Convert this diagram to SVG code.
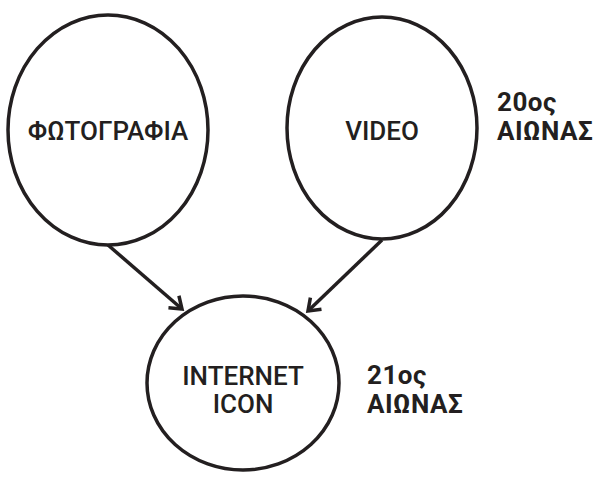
<svg xmlns="http://www.w3.org/2000/svg" width="604" height="477" viewBox="0 0 604 477">
<style>
.node ellipse{fill:#fff;stroke:#231f20;stroke-width:3.5}
.lbl{font-family:Roboto,"Liberation Sans",Arial,sans-serif;font-size:26px;font-weight:500;fill:#231f20;text-anchor:middle}
.era{font-family:Roboto,"Liberation Sans",Arial,sans-serif;font-size:26px;font-weight:bold;fill:#231f20;letter-spacing:0.5px}
.edge{stroke:#231f20;stroke-width:3.5;fill:none;marker-end:url(#arr)}
</style>
<defs>
<marker id="arr" markerWidth="8" markerHeight="8" refX="7" refY="4" orient="auto" markerUnits="userSpaceOnUse" viewBox="0 0 8 8" overflow="visible">
<path d="M-4,-4 L7,4 L-4,12" fill="none" stroke="#231f20" stroke-width="3.5"/>
</marker>
</defs>
<rect width="604" height="477" fill="#fff"/>
<g id="connectors">
<line class="edge" x1="108" y1="245" x2="182" y2="309"/>
<line class="edge" x1="382" y1="240" x2="308" y2="311"/>
</g>
<g id="photo" class="node">
<ellipse cx="108" cy="130" rx="100" ry="115"/>
<text class="lbl" x="108" y="140">ΦΩΤΟΓΡΑΦΙΑ</text>
</g>
<g id="video" class="node">
<ellipse cx="382" cy="128" rx="95" ry="111"/>
<text class="lbl" x="382" y="140">VIDEO</text>
</g>
<g id="internet" class="node">
<ellipse cx="243" cy="383" rx="96" ry="87"/>
<text class="lbl" x="243" y="385">INTERNET</text>
<text class="lbl" x="243" y="413">ICON</text>
</g>
<g id="era20">
<text class="era" x="497" y="111">20ος</text>
<text class="era" x="497" y="140">ΑΙΩΝΑΣ</text>
</g>
<g id="era21">
<text class="era" x="367" y="384">21ος</text>
<text class="era" x="367" y="413">ΑΙΩΝΑΣ</text>
</g>
</svg>
